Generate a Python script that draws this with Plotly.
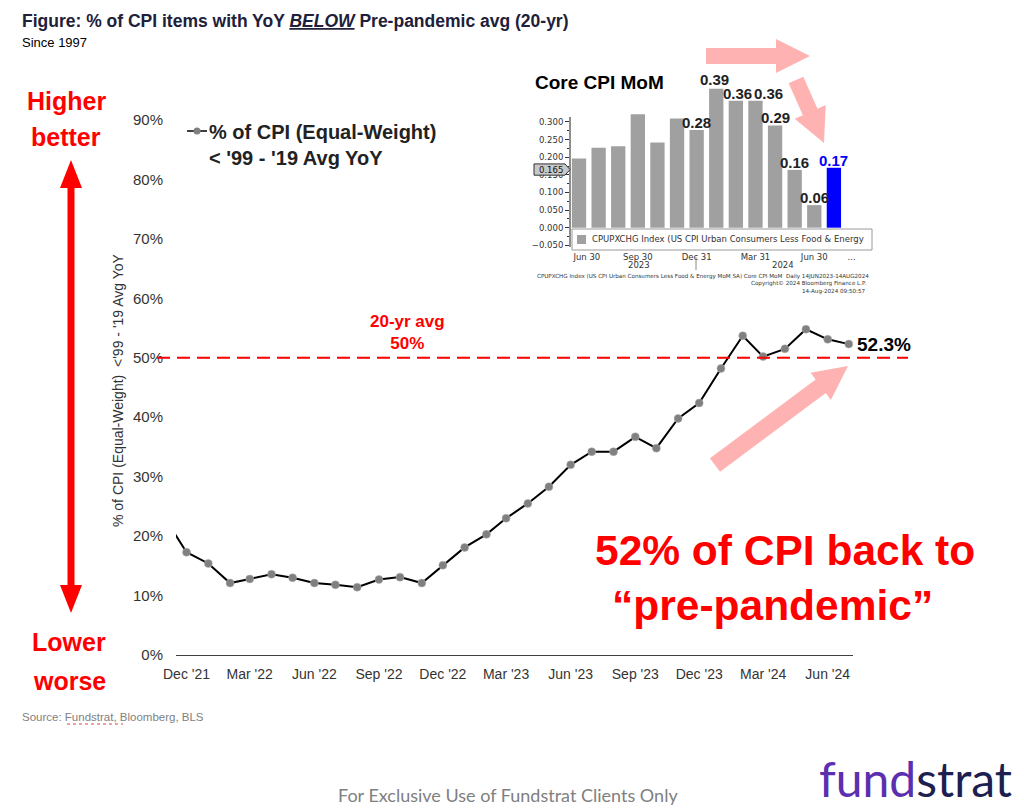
import math
import pandas as pd
import plotly.graph_objects as go

# The page body adds an 8px margin, so the figure is 8px smaller than the window
# and every reference pixel position is shifted by that margin.
OFF = 8
W, H = 1024 - OFF, 808 - OFF


def px(x):
    return (x - OFF) / W


def py(y):
    return 1 - (y - OFF) / H


# ---------------- data ----------------
months = pd.date_range("2021-11-01", "2024-07-01", freq="MS")
pct_below_avg = [22.9, 17.3, 15.4, 12.1, 12.8, 13.6, 13.0, 12.1, 11.8, 11.4, 12.7,
                 13.1, 12.1, 15.1, 18.1, 20.3, 23.0, 25.5, 28.3, 32.0, 34.2, 34.2,
                 36.7, 34.8, 39.8, 42.4, 48.2, 53.7, 50.2, 51.5, 54.8, 53.1, 52.3]
avg_20yr = 50
last_label = "52.3%"
x_tickvals = pd.date_range("2021-12-01", "2024-06-01", freq="3MS")
x_ticktext = ["Dec '21", "Mar '22", "Jun '22", "Sep '22", "Dec '22", "Mar '23",
              "Jun '23", "Sep '23", "Dec '23", "Mar '24", "Jun '24"]
y_tickvals = [0, 10, 20, 30, 40, 50, 60, 70, 80, 90]
y_ticktext = ["0%", "10%", "20%", "30%", "40%", "50%", "60%", "70%", "80%", "90%"]

inset_months = ["Jun 2023", "Jul 2023", "Aug 2023", "Sep 2023", "Oct 2023", "Nov 2023",
                "Dec 2023", "Jan 2024", "Feb 2024", "Mar 2024", "Apr 2024", "May 2024",
                "Jun 2024", "Jul 2024"]
core_cpi_mom = [0.196, 0.227, 0.231, 0.322, 0.242, 0.310, 0.277, 0.394, 0.360, 0.360,
                0.290, 0.164, 0.064, 0.170]
core_labels = [None, None, None, None, None, None, "0.28", "0.39", "0.36", "0.36",
               "0.29", "0.16", "0.06", "0.17"]
inset_tickpos = [0.4, 3, 6, 9, 12, 13.9]
inset_ticktext = ["Jun 30", "Sep 30", "Dec 31", "Mar 31", "Jun 30", "..."]
inset_yticks = [-0.05, 0.0, 0.05, 0.10, 0.15, 0.20, 0.25, 0.30]
inset_minor = [-0.025, 0.025, 0.075, 0.125, 0.175, 0.225, 0.275]
last_value_tag = 0.165

# ---------------- style ----------------
SANS = "Liberation Sans, Arial, sans-serif"
BBG = "DejaVu Sans, Verdana, sans-serif"
RED = "#ff0000"
PINK = "rgb(255,178,178)"

fig = go.Figure()

fig.add_trace(go.Scatter(
    x=months, y=pct_below_avg, mode="lines+markers",
    line=dict(color="#000000", width=2),
    marker=dict(size=8, color="#808080", line=dict(color="#b0b0b0", width=0.5)),
    xaxis="x", yaxis="y", hoverinfo="skip"))

n = len(core_cpi_mom)
bar_colors = ["#a0a0a0"] * (n - 1) + ["#0000ff"]
inset_x = list(range(len(inset_months)))
fig.add_trace(go.Bar(
    x=inset_x, y=core_cpi_mom, marker=dict(color=bar_colors, line=dict(width=0)),
    width=0.73, xaxis="x2", yaxis="y2", hoverinfo="skip"))

shapes = []
annotations = []


def ann(text, x, y, size, color="#000000", xanchor="center", yanchor="middle",
        family=SANS, xref="paper", yref="paper", **kw):
    annotations.append(dict(text=text, x=x, y=y, xref=xref, yref=yref,
                            xanchor=xanchor, yanchor=yanchor, showarrow=False,
                            font=dict(size=size, color=color, family=family), **kw))


def poly(points, color, xref="paper", yref="paper", line=None):
    d = "M " + " L ".join(f"{px(a):.5f},{py(b):.5f}" for a, b in points) + " Z"
    shapes.append(dict(type="path", path=d, xref=xref, yref=yref, fillcolor=color,
                       line=line or dict(width=0), layer="above"))


def arrow(tail, tip, sw, hw, hl, color):
    (x0, y0), (x1, y1) = tail, tip
    dx, dy = x1 - x0, y1 - y0
    L = math.hypot(dx, dy)
    ux, uy = dx / L, dy / L
    nx, ny = -uy, ux
    bx, by = x1 - ux * hl, y1 - uy * hl
    pts = [(x0 + nx * sw / 2, y0 + ny * sw / 2), (bx + nx * sw / 2, by + ny * sw / 2),
           (bx + nx * hw / 2, by + ny * hw / 2), (x1, y1),
           (bx - nx * hw / 2, by - ny * hw / 2), (bx - nx * sw / 2, by - ny * sw / 2),
           (x0 - nx * sw / 2, y0 - ny * sw / 2)]
    poly(pts, color)


# title
ann("<b>Figure: % of CPI items with YoY <i><u>BELOW</u></i> Pre-pandemic avg (20-yr)</b>",
    px(20), py(21), 17.5, "#20203a", xanchor="left")
ann("Since 1997", px(20), py(43), 13, "#000000", xanchor="left")

# left "higher/lower" block
ann("<b>Higher</b>", px(66), py(101), 25, RED)
ann("<b>better</b>", px(66), py(137), 25, RED)
ann("<b>Lower</b>", px(69), py(642), 25, RED)
ann("<b>worse</b>", px(69), py(681), 25, RED)
poly([(71, 160), (82, 188), (74.5, 188), (74.5, 585), (82, 585), (71, 613), (60, 585),
      (67.5, 585), (67.5, 188), (60, 188)], RED)

# y axis title
ann("% of CPI (Equal-Weight)  &lt;'99 - '19 Avg YoY", px(118), py(390), 14, "#333333",
    textangle=-90)

# legend
shapes.append(dict(type="line", xref="paper", yref="paper", x0=px(187), x1=px(207),
                   y0=py(131), y1=py(131), line=dict(color="#000000", width=1.5)))
shapes.append(dict(type="circle", xref="paper", yref="paper", x0=px(193.5), x1=px(200.5),
                   y0=py(134.5), y1=py(127.5), fillcolor="#808080",
                   line=dict(color="#808080", width=0)))
ann("<b>% of CPI (Equal-Weight)<br>&lt; '99 - '19 Avg YoY</b>", px(207), py(145), 20,
    "#222222", xanchor="left", align="left")

# 20-yr avg line
shapes.append(dict(type="line", xref="paper", yref="y", x0=px(157), x1=px(908),
                   y0=avg_20yr, y1=avg_20yr, line=dict(color=RED, width=2, dash="13px,7px"),
                   layer="above"))
ann(f"<b>20-yr avg<br>{avg_20yr}%</b>", px(407), avg_20yr, 17, RED, yref="y",
    yanchor="bottom", yshift=3)

# last value label
ann(f"<b>{last_label}</b>", months[-1], pct_below_avg[-1], 19, "#000000", xref="x",
    yref="y", xanchor="left", xshift=6)

# big message
ann("<b>52% of CPI back to</b>", px(785), py(550), 42.5, RED)
ann("<b>\u201cpre-pandemic\u201d</b>", px(772), py(605), 42.5, RED)

# pink arrows
arrow((706, 56), (810, 56), 16, 34, 34, PINK)
arrow((796, 80), (824, 143), 16, 34, 34, PINK)
arrow((715, 465), (848, 366), 17, 34, 34, PINK)

# source + footer
ann("Source: Fundstrat, Bloomberg, BLS", px(20), py(717), 11.5, "#7f7f7f", xanchor="left")
shapes.append(dict(type="line", xref="paper", yref="paper", x0=px(67), x1=px(123),
                   y0=py(724), y1=py(724), line=dict(color="#e04040", width=1, dash="dot")))
ann("For Exclusive Use of Fundstrat Clients Only", px(508), py(795), 18, "#808080",
    family="Lato, Open Sans, sans-serif")
ann("<span style='color:#5b2fb0'>fund</span><span style='color:#1c1f4f'>strat</span>",
    px(915), py(778), 48, "#1c1f4f", family="Lato, Open Sans, sans-serif")

# ---------------- inset (Bloomberg) ----------------
ann("<b>Core CPI MoM</b>", px(533), py(82), 19, "#000000", xanchor="left")
label_dx = {7: -2, 8: 2, 9: 13}
label_dy = {7: -1}
for i, lab in enumerate(core_labels):
    if lab is None:
        continue
    col = "#0000ff" if i == n - 1 else "#222222"
    ann(f"<b>{lab}</b>", inset_x[i], core_cpi_mom[i], 15, col, xref="x2", yref="y2",
        yanchor="bottom", yshift=label_dy.get(i, -3), xshift=label_dx.get(i, 0))

# inset y-axis line
shapes.append(dict(type="line", xref="paper", yref="y2", x0=px(570), x1=px(570),
                   y0=-0.055, y1=0.314, line=dict(color="#444444", width=1.2)))
# legend box
shapes.append(dict(type="rect", xref="paper", yref="paper", x0=px(572), x1=px(872),
                   y0=py(250), y1=py(229), fillcolor="#ffffff",
                   line=dict(color="#9a9a9a", width=1), layer="above"))
shapes.append(dict(type="rect", xref="paper", yref="paper", x0=px(577), x1=px(586),
                   y0=py(244), y1=py(235), fillcolor="#a0a0a0", line=dict(width=0),
                   layer="above"))
ann("CPUPXCHG Index (US CPI Urban Consumers Less Food &amp; Energy", px(590), py(239.5),
    8.5, "#333333", xanchor="left", family=BBG)

# last value tag
tag_h = 0.016
d = (f"M {px(534):.5f},{last_value_tag + tag_h} L {px(565):.5f},{last_value_tag + tag_h} "
     f"L {px(570):.5f},{last_value_tag} L {px(565):.5f},{last_value_tag - tag_h} "
     f"L {px(534):.5f},{last_value_tag - tag_h} Z")
shapes.append(dict(type="path", path=d, xref="paper", yref="y2", fillcolor="#c8c8c8",
                   line=dict(color="#333333", width=1), layer="above"))
ann(f"{last_value_tag:.3f}", px(551), last_value_tag, 8.5, "#111111", yref="y2",
    family=BBG)

# year labels / separator
ann("2023", px(639), py(265), 8.5, "#333333", family=BBG)
ann("2024", px(783), py(265), 8.5, "#333333", family=BBG)
shapes.append(dict(type="line", xref="paper", yref="paper", x0=px(696), x1=px(696),
                   y0=py(257), y1=py(270), line=dict(color="#888888", width=1)))

# bloomberg footer
ann("CPUPXCHG Index (US CPI Urban Consumers Less Food &amp; Energy MoM SA) Core CPI MoM  "
    "Daily 14JUN2023-14AUG2024", px(535), py(276), 5.6, "#333333", xanchor="left",
    family=BBG)
ann("Copyright\u00a9 2024 Bloomberg Finance L.P.", px(868), py(283.5), 5.6, "#333333",
    xanchor="right", family=BBG)
ann("14-Aug-2024 09:50:57", px(868), py(291), 5.6, "#333333", xanchor="right",
    family=BBG)

fig.update_layout(
    width=W, height=H, autosize=False,
    margin=dict(l=0, r=0, t=0, b=0, pad=0, autoexpand=False),
    paper_bgcolor="#ffffff", plot_bgcolor="rgba(0,0,0,0)",
    showlegend=False,
    xaxis=dict(domain=[px(176), px(853)], type="date",
               range=["2021-11-16", "2024-07-07"], tickvals=x_tickvals,
               ticktext=x_ticktext, showline=True, linecolor="#404040", linewidth=1.2,
               ticks="", showgrid=False, zeroline=False, ticklabelstandoff=6,
               automargin=False,
               tickfont=dict(family=SANS, size=14, color="#333333"), anchor="y"),
    yaxis=dict(domain=[py(655), py(120)], range=[0, 90], tickvals=y_tickvals,
               ticktext=y_ticktext, showline=False, ticks="", showgrid=False,
               zeroline=False, automargin=False,
               ticklabelstandoff=12, tickfont=dict(family=SANS, size=15, color="#333333"),
               anchor="x"),
    xaxis2=dict(domain=[px(570), px(868)], range=[-0.46, 14.74], tickvals=inset_tickpos,
                ticktext=inset_ticktext, showline=False, ticks="", showgrid=False,
                zeroline=False, anchor="y2", ticklabelstandoff=0, automargin=False,
                tickfont=dict(family=BBG, size=8.5, color="#333333")),
    yaxis2=dict(domain=[py(250), py(80)], range=[-0.0633, 0.4191], tickvals=inset_yticks,
                tickformat=".3f", ticks="outside", ticklen=4, tickcolor="#333333",
                showline=False, showgrid=False, zeroline=False, anchor="x2",
                automargin=False,
                minor=dict(tickvals=inset_minor, ticks="outside", ticklen=2,
                           tickcolor="#333333"),
                tickfont=dict(family=BBG, size=8.5, color="#333333")),
    shapes=shapes, annotations=annotations,
)

fig.write_html("out.html")
